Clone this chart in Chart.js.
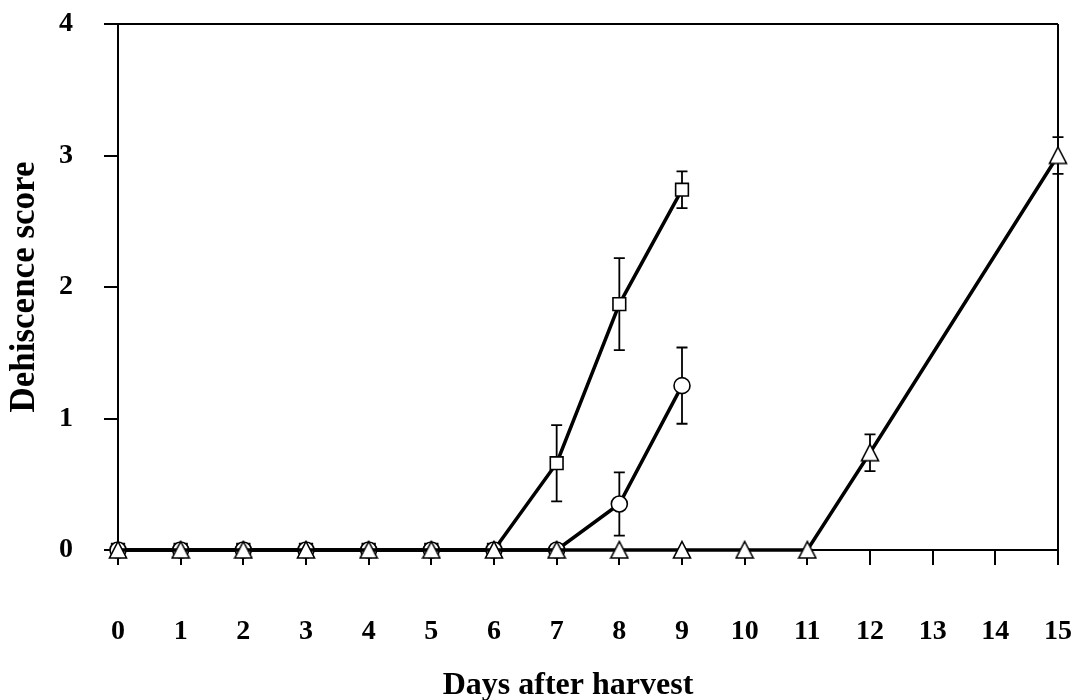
<!DOCTYPE html>
<html>
<head>
<meta charset="utf-8">
<script src="https://cdn.jsdelivr.net/npm/chart.js@4"></script>
<style>
  html, body { margin: 0; padding: 0; background: #fff; }
  #wrap { width: 1077px; height: 700px; }
</style>
</head>
<body>
<div id="wrap"><canvas id="chart" width="1077" height="700"></canvas></div>
<script>
// days after harvest
const days = [0, 1, 2, 3, 4, 5, 6, 7, 8, 9, 10, 11, 12, 13, 14, 15];

// dehiscence score per line (null = not measured)
const squareVals = [0, 0, 0, 0, 0, 0, 0, 0.66, 1.87, 2.74, null, null, null, null, null, null];
const squareErr = [0, 0, 0, 0, 0, 0, 0, 0.29, 0.35, 0.14, 0, 0, 0, 0, 0, 0];
const circleVals = [0, 0, 0, 0, 0, 0, 0, 0, 0.35, 1.25, null, null, null, null, null, null];
const circleErr = [0, 0, 0, 0, 0, 0, 0, 0, 0.24, 0.29, 0, 0, 0, 0, 0, 0];
const triangleVals = [0, 0, 0, 0, 0, 0, 0, 0, 0, 0, 0, 0, 0.74, null, null, 3.0];
const triangleErr = [0, 0, 0, 0, 0, 0, 0, 0, 0, 0, 0, 0, 0.14, 0, 0, 0.14];

const yTicks = [0, 1, 2, 3, 4];

const FONT = "'Liberation Serif', 'Times New Roman', serif";

function toPoints(vals, errs) {
  return days.map((d, i) => ({ x: d, y: vals[i], err: errs[i] }));
}

// open triangle marker, centred in its box
function triangleMarker() {
  const c = document.createElement("canvas");
  c.width = 20;
  c.height = 20;
  const g = c.getContext("2d");
  g.beginPath();
  g.moveTo(10, 1.5);
  g.lineTo(18.5, 18);
  g.lineTo(1.5, 18);
  g.closePath();
  g.fillStyle = "#fff";
  g.fill();
  g.lineWidth = 1.6;
  g.strokeStyle = "#000";
  g.stroke();
  return c;
}

// error bars with caps, drawn under the lines and markers
const errorBars = {
  id: "errorBars",
  beforeDatasetsDraw(chart) {
    const ctx = chart.ctx;
    const xs = chart.scales.x;
    const ys = chart.scales.y;
    ctx.save();
    ctx.strokeStyle = "#000";
    ctx.lineWidth = 1.8;
    chart.data.datasets.forEach((ds) => {
      ds.data.forEach((p) => {
        if (p.y === null || !p.err) return;
        const x = xs.getPixelForValue(p.x);
        const top = ys.getPixelForValue(p.y + p.err);
        const bot = ys.getPixelForValue(p.y - p.err);
        ctx.beginPath();
        ctx.moveTo(x, top);
        ctx.lineTo(x, bot);
        ctx.moveTo(x - 5.5, top);
        ctx.lineTo(x + 5.5, top);
        ctx.moveTo(x - 5.5, bot);
        ctx.lineTo(x + 5.5, bot);
        ctx.stroke();
      });
    });
    ctx.restore();
  },
};

const common = {
  borderColor: "#000",
  borderWidth: 3.5,
  pointBackgroundColor: "#fff",
  pointBorderColor: "#000",
  pointBorderWidth: 1.6,
  tension: 0,
  spanGaps: true,
  clip: false,
};

new Chart(document.getElementById("chart"), {
  type: "line",
  data: {
    datasets: [
      Object.assign({}, common, {
        label: "triangle",
        data: toPoints(triangleVals, triangleErr),
        pointStyle: triangleMarker(),
        order: 0,
      }),
      Object.assign({}, common, {
        label: "circle",
        data: toPoints(circleVals, circleErr),
        pointStyle: "circle",
        pointRadius: 8,
        order: 1,
      }),
      Object.assign({}, common, {
        label: "square",
        data: toPoints(squareVals, squareErr),
        pointStyle: "rect",
        pointRadius: 9,
        order: 2,
      }),
    ],
  },
  options: {
    responsive: false,
    animation: false,
    layout: { padding: { left: 0, right: 19, top: 24, bottom: 0 } },
    plugins: { legend: { display: false }, tooltip: { enabled: false } },
    scales: {
      x: {
        type: "linear",
        min: 0,
        max: 15,
        afterFit: (s) => {
          s.height = 150;
          s.paddingLeft = 0;
          s.paddingRight = 0;
        },
        border: { display: true, color: "#000", width: 2 },
        grid: {
          drawOnChartArea: true,
          drawTicks: true,
          tickLength: 15,
          lineWidth: 2,
          tickColor: "#000",
          color: (c) => (c.tick && c.tick.value === 15 ? "#000" : "rgba(0,0,0,0)"),
        },
        ticks: {
          stepSize: 1,
          padding: 50,
          color: "#000",
          font: { family: FONT, size: 28, weight: "bold" },
        },
        title: {
          display: true,
          // trailing spaces pull the centred title a little left, as in the original
          text: "Days after harvest\u00a0\u00a0\u00a0\u00a0\u00a0",
          color: "#000",
          padding: { top: 0, bottom: 0 },
          font: { family: FONT, size: 32, weight: "bold", lineHeight: 0.92 },
        },
      },
      y: {
        min: 0,
        max: 4,
        afterFit: (s) => {
          s.width = 118;
          s.paddingTop = 0;
          s.paddingBottom = 0;
        },
        afterBuildTicks: (s) => { s.ticks = yTicks.map((v) => ({ value: v })); },
        border: { display: true, color: "#000", width: 2 },
        grid: {
          drawOnChartArea: true,
          drawTicks: true,
          tickLength: 14,
          lineWidth: 2,
          tickColor: "#000",
          color: (c) => (c.tick && c.tick.value === 4 ? "#000" : "rgba(0,0,0,0)"),
        },
        ticks: {
          padding: 31,
          color: "#000",
          font: { family: FONT, size: 28, weight: "bold" },
        },
        title: {
          display: true,
          text: "Dehiscence score",
          color: "#000",
          padding: { top: 4, bottom: 0 },
          font: { family: FONT, size: 35, weight: "bold" },
        },
      },
    },
  },
  plugins: [errorBars],
});
</script>
</body>
</html>
